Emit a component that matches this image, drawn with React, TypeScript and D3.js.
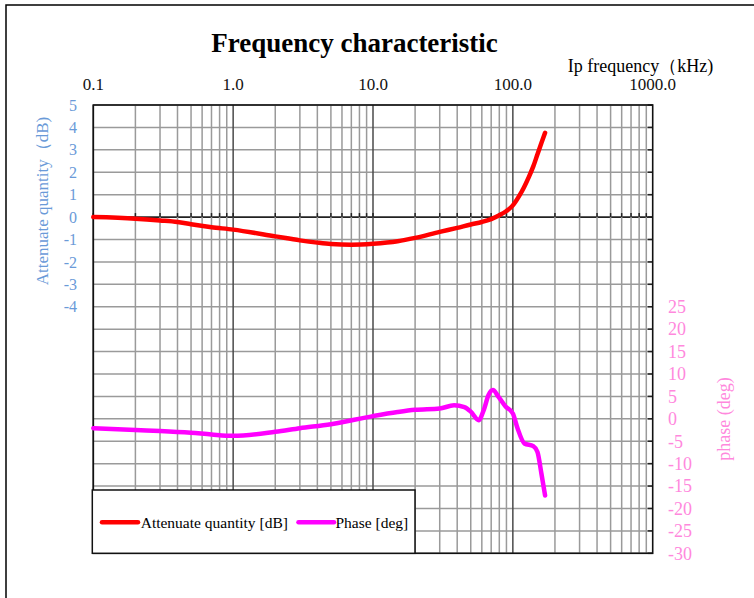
import React from "react";
import * as d3 from "d3";

const freqAtt = [0.1, 0.2, 0.3, 0.4, 0.5, 0.7, 1, 2, 3, 4, 5, 7, 10, 15, 20, 30, 40, 50, 60, 70, 80, 90, 100, 110, 120, 130, 140, 150, 160, 170];
const attDb = [0, -0.07, -0.15, -0.22, -0.32, -0.45, -0.56, -0.86, -1.04, -1.14, -1.2, -1.23, -1.19, -1.08, -0.93, -0.66, -0.48, -0.33, -0.22, -0.09, 0.08, 0.27, 0.52, 0.9, 1.32, 1.78, 2.26, 2.8, 3.3, 3.76];

const freqPh = [0.1, 0.2, 0.3, 0.5, 0.7, 1, 2, 3, 5, 10, 15, 20, 30, 38, 45, 50, 57, 62, 67, 72, 79, 89, 100, 108, 121, 140, 150, 160, 170];
const phaseDeg = [-2.1, -2.5, -2.7, -3.1, -3.5, -3.8, -2.9, -2.1, -1.2, 0.6, 1.5, 2.0, 2.3, 3.0, 2.6, 1.6, -0.3, 2.0, 5.3, 6.4, 4.9, 2.7, 1.2, -2.1, -5.5, -6.1, -7.4, -12.2, -17.1];

const xTickLabels = [0.1, 1, 10, 100, 1000];
const leftTicks = [5, 4, 3, 2, 1, 0, -1, -2, -3, -4];
const rightTicks = [25, 20, 15, 10, 5, 0, -5, -10, -15, -20, -25, -30];

const W = 754, H = 598;
const L = 93.3, R = 652.7, T = 105, B = 553.3;
const BLUE = "#6a9ad8";
const PINK = "#ff88dd";
const FONT = "'Liberation Serif', 'Times New Roman', serif";

export default function App() {
  const x = d3.scaleLog().domain([0.1, 1000]).range([L, R]);
  const yL = d3.scaleLinear().domain([-15, 5]).range([B, T]);
  const yR = d3.scaleLinear().domain([-30, 70]).range([B, T]);

  const vLines: { v: number; major: boolean }[] = [];
  for (let d = -1; d <= 2; d++) {
    for (let k = 1; k <= 9; k++) {
      vLines.push({ v: k * Math.pow(10, d), major: k === 1 });
    }
  }
  const hVals = d3.range(-15, 6, 1);

  const attLine = d3
    .line<number>()
    .x((_, i) => x(freqAtt[i]))
    .y((d) => yL(d))
    .curve(d3.curveMonotoneX);
  const phLine = d3
    .line<number>()
    .x((_, i) => x(freqPh[i]))
    .y((d) => yR(d))
    .curve(d3.curveMonotoneX);

  const y0 = yL(0);

  return (
    <svg
      width={W}
      height={H}
      style={{ position: "fixed", left: 0, top: 0, background: "#fff" }}
      fontFamily={FONT}
    >
      <rect x={0} y={0} width={W} height={H} fill="#fff" />
      <rect x={6} y={5} width={900} height={800} fill="none" stroke="#000" strokeWidth={1.5} />

      {/* grid */}
      {hVals.map((v) => (
        <line key={"h" + v} x1={L} x2={R} y1={yL(v)} y2={yL(v)} stroke={v === 0 ? "#222" : "#9a9a9a"} strokeWidth={v === 0 ? 1.6 : 1.5} />
      ))}
      {vLines.map((g) => (
        <line key={"v" + g.v} x1={x(g.v)} x2={x(g.v)} y1={T} y2={B} stroke={g.major ? "#4a4a4a" : "#9a9a9a"} strokeWidth={1.5} />
      ))}
      {/* ticks on zero line */}
      {vLines.map((g) => (
        <line key={"t" + g.v} x1={x(g.v)} x2={x(g.v)} y1={y0 - 4} y2={y0} stroke="#222" strokeWidth={1.5} />
      ))}
      {/* ticks on right edge */}
      {hVals.map((v) => (
        <line key={"rt" + v} x1={R - 5} x2={R} y1={yL(v)} y2={yL(v)} stroke="#222" strokeWidth={1.5} />
      ))}
      <rect x={L} y={T} width={R - L} height={B - T} fill="none" stroke="#111" strokeWidth={1.6} />

      {/* curves */}
      <path d={attLine(attDb) || ""} fill="none" stroke="#ff0000" strokeWidth={4.5} strokeLinecap="round" strokeLinejoin="round" />
      <path d={phLine(phaseDeg) || ""} fill="none" stroke="#ff00ff" strokeWidth={4.5} strokeLinecap="round" strokeLinejoin="round" />

      {/* title */}
      <text x={354.5} y={52} textAnchor="middle" fontSize={27} fontWeight="bold" fill="#000">
        Frequency characteristic
      </text>
      <text x={567.7} y={72} fontSize={18} fill="#000">
        Ip frequency（kHz)
      </text>

      {/* x tick labels */}
      {xTickLabels.map((v) => (
        <text key={"xl" + v} x={x(v)} y={90} textAnchor="middle" fontSize={17} fill="#111">
          {v.toFixed(1)}
        </text>
      ))}

      {/* left axis */}
      {leftTicks.map((v) => (
        <text key={"ll" + v} x={77} y={yL(v)} dy="0.35em" textAnchor="end" fontSize={16} fill={BLUE}>
          {v}
        </text>
      ))}
      <text transform={`translate(48,201) rotate(-90)`} textAnchor="middle" fontSize={17} fill={BLUE}>
        Attenuate quantity（dB)
      </text>

      {/* right axis */}
      {rightTicks.map((v) => (
        <text key={"rl" + v} x={668} y={yR(v)} dy="0.35em" textAnchor="start" fontSize={18} fill={PINK}>
          {v}
        </text>
      ))}
      <text transform={`translate(730,419) rotate(-90)`} textAnchor="middle" fontSize={18} fill={PINK}>
        phase (deg)
      </text>

      {/* legend */}
      <rect x={92.3} y={490} width={322.7} height={63.3} fill="#fff" stroke="#111" strokeWidth={1.5} />
      <line x1={102} x2={138} y1={522.3} y2={522.3} stroke="#ff0000" strokeWidth={4.5} strokeLinecap="round" />
      <text x={140.7} y={522.3} dy="0.35em" fontSize={15.5} fill="#000">
        Attenuate quantity [dB]
      </text>
      <line x1={298.5} x2={334} y1={522.3} y2={522.3} stroke="#ff00ff" strokeWidth={4.5} strokeLinecap="round" />
      <text x={335.5} y={522.3} dy="0.35em" fontSize={15.5} fill="#000">
        Phase [deg]
      </text>
    </svg>
  );
}
